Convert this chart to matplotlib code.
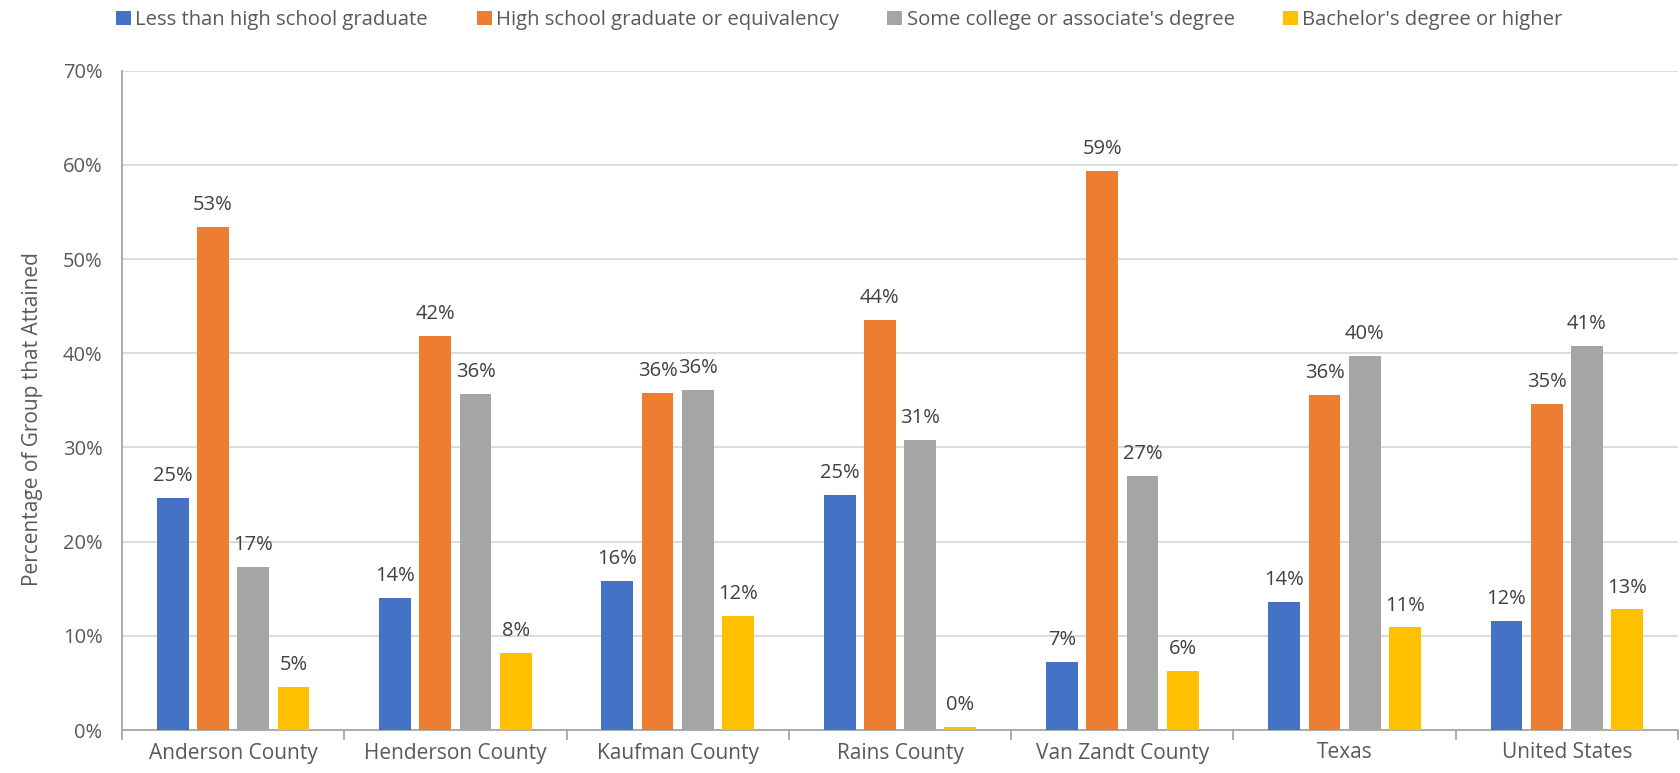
import numpy as np
import matplotlib
matplotlib.use("Agg")
import matplotlib.pyplot as plt
from matplotlib import font_manager
from matplotlib.patches import Patch
from matplotlib.ticker import PercentFormatter

places = ["Anderson County", "Henderson County", "Kaufman County", "Rains County",
          "Van Zandt County", "Texas", "United States"]
series = ["Less than high school graduate", "High school graduate or equivalency",
          "Some college or associate's degree", "Bachelor's degree or higher"]
less_hs = [24.6, 14.0, 15.8, 25.0, 7.2, 13.6, 11.6]
hs_grad = [53.4, 41.8, 35.8, 43.5, 59.4, 35.6, 34.6]
some_college = [17.3, 35.7, 36.1, 30.8, 27.0, 39.7, 40.8]
bachelor = [4.6, 8.2, 12.1, 0.35, 6.3, 10.9, 12.8]
colors = ["#4472C4", "#ED7D31", "#A5A5A5", "#FFC000"]

names = {f.name for f in font_manager.fontManager.ttflist}
main_font = "Open Sans" if "Open Sans" in names else "DejaVu Sans"
plt.rcParams["font.family"] = [main_font, "DejaVu Sans"]

fig = plt.figure(figsize=(16.8, 7.73), dpi=100)
ax = fig.add_axes([122 / 1680, 1 - 730 / 773, 1556 / 1680, (730 - 70.7) / 773])

x = np.arange(len(places))
pitch = 0.181
width = 0.143
for j, vals in enumerate([less_hs, hs_grad, some_college, bachelor]):
    pos = x + (j - 1.5) * pitch
    ax.bar(pos, vals, width, color=colors[j], zorder=3)
    for px, v in zip(pos, vals):
        ax.annotate(f"{v:.0f}%", (px, v), xytext=(0, 8.5), textcoords="offset points",
                    ha="center", va="bottom", fontsize=14.5, color="#404040")

ax.set_xlim(-0.5, len(places) - 0.5)
ax.set_ylim(0, 70)
ax.set_yticks(np.arange(0, 71, 10))
ax.yaxis.set_major_formatter(PercentFormatter(decimals=0))
ax.grid(axis="y", color="#D9D9D9", linewidth=1.3, zorder=0)
ax.set_xticks(x)
ax.set_xticklabels(places)
ax.set_xticks(np.arange(-0.5, len(places), 1), minor=True)
ax.tick_params(axis="x", which="major", length=0, pad=9, labelsize=15, labelcolor="#595959")
ax.tick_params(axis="x", which="minor", length=7, width=1.3, color="#A6A6A6", direction="out")
ax.tick_params(axis="y", length=0, pad=14, labelsize=14.5, labelcolor="#595959")
for s in ["top", "right"]:
    ax.spines[s].set_visible(False)
for s in ["left", "bottom"]:
    ax.spines[s].set_color("#A6A6A6")
    ax.spines[s].set_linewidth(1.3)
ax.set_ylabel("Percentage of Group that Attained", fontsize=15, color="#595959")
ax.yaxis.set_label_coords(-0.051, 0.472)

handles = [Patch(facecolor=c) for c in colors]
fig.legend(handles, series, loc="upper left", bbox_to_anchor=(116 / 1680, 1 - 10 / 773), ncol=4,
           frameon=False, fontsize=14.6, borderpad=0, borderaxespad=0,
           handlelength=0.75, handleheight=0.7, handletextpad=0.2, columnspacing=2.4,
           labelcolor="#595959")

fig.savefig("out.png", dpi=100)
